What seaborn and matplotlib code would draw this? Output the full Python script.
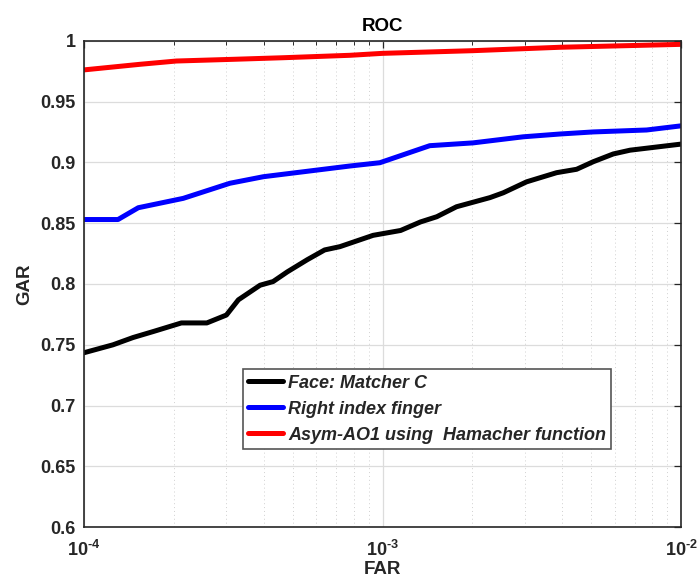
import numpy as np
import pandas as pd
import seaborn as sns
import matplotlib
matplotlib.use("Agg")
import matplotlib.pyplot as plt
from matplotlib.ticker import LogLocator, FixedLocator, NullFormatter, FuncFormatter

# ROC curves: false acceptance rate vs genuine acceptance rate
face_far = [1.0e-4, 1.25e-4, 1.46e-4, 1.71e-4, 2.12e-4, 2.58e-4, 3.0e-4, 3.29e-4,
            3.89e-4, 4.3e-4, 4.8e-4, 5.6e-4, 6.4e-4, 7.2e-4, 9.3e-4, 1.15e-3,
            1.34e-3, 1.52e-3, 1.77e-3, 2.29e-3, 2.54e-3, 3.04e-3, 3.83e-3,
            4.47e-3, 5.08e-3, 5.93e-3, 6.75e-3, 1.0e-2]
face_gar = [0.7435, 0.750, 0.756, 0.761, 0.768, 0.768, 0.7745, 0.787,
            0.799, 0.802, 0.810, 0.820, 0.828, 0.8307, 0.840, 0.844,
            0.851, 0.8553, 0.8635, 0.871, 0.875, 0.884, 0.8915,
            0.8943, 0.9005, 0.9069, 0.910, 0.915]

finger_far = [1.0e-4, 1.30e-4, 1.52e-4, 2.15e-4, 3.08e-4, 3.99e-4, 7.78e-4,
              9.8e-4, 1.44e-3, 2.01e-3, 2.96e-3, 3.93e-3, 5.08e-3, 7.67e-3, 1.0e-2]
finger_gar = [0.853, 0.853, 0.8627, 0.8704, 0.8828, 0.8882, 0.897,
              0.8997, 0.9137, 0.916, 0.921, 0.9233, 0.925, 0.9266, 0.930]

fusion_far = [1.0e-4, 1.54e-4, 2.04e-4, 3.16e-4, 4.64e-4, 7.78e-4, 1.0e-3,
              2.01e-3, 3.93e-3, 1.0e-2]
fusion_gar = [0.976, 0.9806, 0.9833, 0.9847, 0.986, 0.988, 0.9896,
              0.9918, 0.9946, 0.997]

series_names = ["Face: Matcher C", "Right index finger",
                "Asym-AO1 using  Hamacher function"]
series_colors = ["#000000", "#0000FF", "#FF0000"]

frames = []
for name, far, gar in zip(series_names,
                          [face_far, finger_far, fusion_far],
                          [face_gar, finger_gar, fusion_gar]):
    frames.append(pd.DataFrame({"FAR": far, "GAR": gar, "method": name}))
df = pd.concat(frames, ignore_index=True)

sns.set_theme(style="white")
plt.rcParams["font.family"] = ["Liberation Sans", "DejaVu Sans"]
plt.rcParams["axes.unicode_minus"] = False
plt.rcParams["mathtext.fontset"] = "custom"
plt.rcParams["mathtext.rm"] = "Liberation Sans:bold"
plt.rcParams["mathtext.bf"] = "Liberation Sans:bold"

fig = plt.figure(figsize=(6.97, 5.83), dpi=100)
ax = fig.add_axes([84 / 697, 1 - 527.3 / 583, (681 - 84) / 697, (527.3 - 40.7) / 583])

sns.lineplot(data=df, x="FAR", y="GAR", hue="method", hue_order=series_names,
             palette=dict(zip(series_names, series_colors)), linewidth=3.6,
             sort=False, estimator=None, ax=ax)

ax.set_xscale("log")
ax.set_xlim(1e-4, 1e-2)
ax.set_ylim(0.6, 1.0)

axis_gray = "#262626"
ax.xaxis.set_major_locator(FixedLocator([1e-4, 1e-3, 1e-2]))
ax.xaxis.set_minor_locator(LogLocator(base=10, subs=np.arange(2, 10)))
ax.xaxis.set_minor_formatter(NullFormatter())
ax.xaxis.set_major_formatter(FuncFormatter(
    lambda v, p: r"$\mathbf{10^{\text{-}%d}}$" % int(round(-np.log10(v)))))
yticks = [0.6, 0.65, 0.7, 0.75, 0.8, 0.85, 0.9, 0.95, 1.0]
ax.set_yticks(yticks)
ax.set_yticklabels(["%g" % t for t in yticks])

ax.grid(True, which="major", color="#dcdcdc", linewidth=0.9, linestyle="-")
ax.grid(True, which="minor", axis="x", color="#d0d0d0", linewidth=0.7, linestyle=(0, (1, 3)))
ax.set_axisbelow(True)

ax.tick_params(axis="both", which="both", direction="in", top=True, right=True,
               colors=axis_gray, labelcolor=axis_gray)
ax.tick_params(axis="both", which="major", length=5, width=0.9, labelsize=13, pad=6)
ax.tick_params(axis="x", which="minor", length=3, width=0.7)
ax.tick_params(axis="x", which="major", pad=9)
for lab in ax.get_yticklabels():
    lab.set_fontweight("bold")
for s in ax.spines.values():
    s.set_color(axis_gray)
    s.set_linewidth(1.2)

ax.set_xlabel("FAR", fontsize=13.5, fontweight="bold", color=axis_gray, labelpad=1)
ax.set_ylabel("GAR", fontsize=13.5, fontweight="bold", color=axis_gray, labelpad=5)
ax.set_title("ROC", fontsize=13.5, fontweight="bold", color="#000000", pad=7)

leg = ax.legend(loc="upper left", bbox_to_anchor=(0.266, 0.325), frameon=True,
                fancybox=False, edgecolor="#555555", framealpha=1,
                prop={"weight": "bold", "style": "italic", "size": 13},
                handlelength=1.95, handletextpad=0.25, labelspacing=0.5,
                borderpad=0.3, borderaxespad=0)
leg.get_frame().set_linewidth(1.2)
for line in leg.get_lines():
    line.set_linewidth(3.6)

fig.savefig("out.png", dpi=100)
